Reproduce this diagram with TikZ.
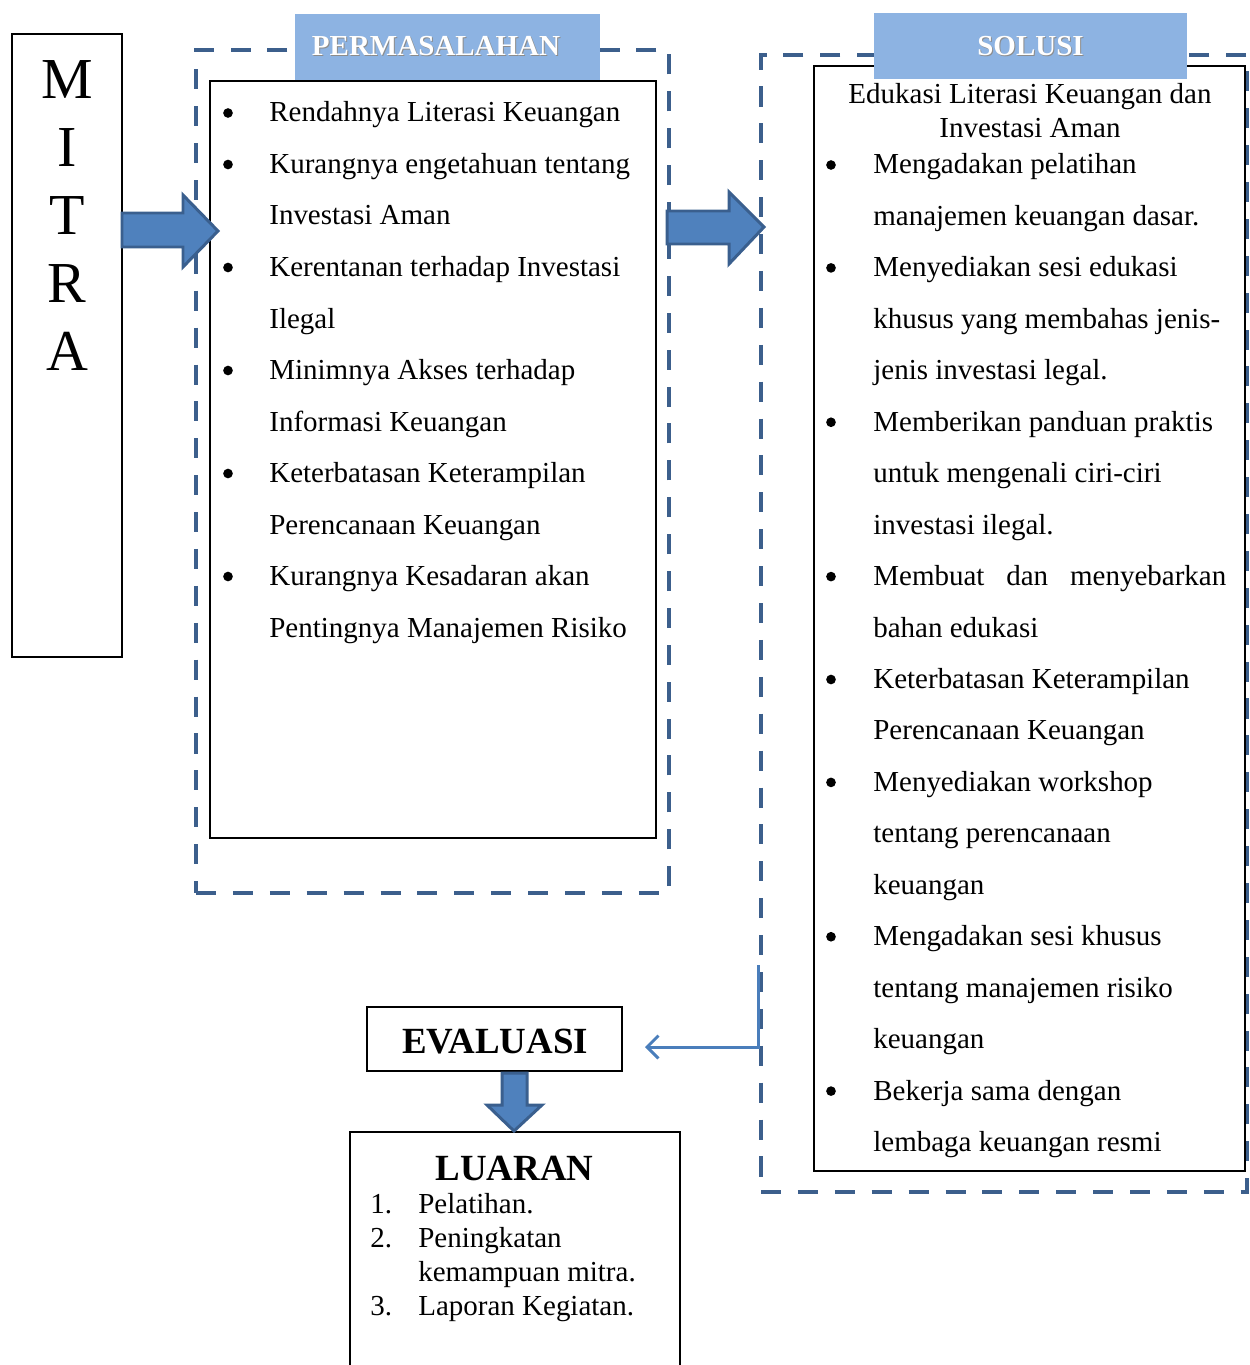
\documentclass[tikz,border=0pt]{standalone}
\usepackage{fontspec}
\setmainfont{Liberation Serif}
\usetikzlibrary{positioning,arrows.meta}

\definecolor{dashblue}{HTML}{3C5F8C}
\definecolor{headblue}{HTML}{8DB3E2}
\definecolor{arrowfill}{HTML}{4F81BD}
\definecolor{arrowedge}{HTML}{3A5F8E}
\definecolor{linkblue}{HTML}{4A7EBB}

\tikzset{
  body/.style={inner sep=0pt, anchor=base west, font=\fontsize{16.5}{20}\selectfont},
  dot/.style={circle, fill=black, inner sep=0pt, minimum size=5.5pt},
  frame/.style={draw=dashblue, line width=2.3pt, dash pattern=on 11.4pt off 9.6pt, inner sep=0pt},
  listbox/.style={draw=black, line width=1.1pt, inner sep=0pt},
  header/.style={fill=headblue, inner sep=0pt},
  headtext/.style={inner sep=0pt, anchor=base, font=\fontsize{16.5}{20}\selectfont\bfseries},
  bigtitle/.style={inner sep=0pt, anchor=base, font=\fontsize{21}{24}\selectfont\bfseries},
  blockarrow/.style={fill=arrowfill, draw=arrowedge, line width=1.7pt, line join=miter},
  link/.style={draw=linkblue, line width=1.7pt, -{Straight Barb[length=6.5pt,width=13pt]}},
}

\begin{document}
\begin{tikzpicture}[x=0.02cm, y=-0.02cm]
  \useasboundingbox (0,0) rectangle (1249,1365);

  % mitra
  \node[listbox, minimum width=2.2cm, minimum height=12.46cm] (mitra) at (67,345.5) {};
  \foreach \i/\l in {0/M,1/I,2/T,3/R,4/A}
    \node[inner sep=0pt, anchor=base, font=\fontsize{33}{36}\selectfont] (mitra\l) at (67,99+\i*67.8) {\l};

  % permasalahan
  \node[frame, minimum width=9.46cm, minimum height=16.86cm] (permframe) at (432.5,471.5) {};
  \node[listbox, minimum width=8.92cm, minimum height=15.14cm] (permbox) at (433,459.5) {};
  \node[header, minimum width=6.1cm, minimum height=1.32cm] (permhead) at (447.5,47) {};
  \node[headtext, text=black!45] (permshade) at (437,57) {PERMASALAHAN};
  \node[headtext, text=white] (permtitle) at (436,56) {PERMASALAHAN};

  \foreach \i in {0,1,3,5,7,9}
    \node[dot] (permdot\i) at (228,113+\i*51.5) {};
  \foreach \i/\txt in {0/Rendahnya Literasi Keuangan, 1/Kurangnya engetahuan tentang,
      2/Investasi Aman, 3/Kerentanan terhadap Investasi, 4/Ilegal,
      5/Minimnya Akses terhadap, 6/Informasi Keuangan,
      7/Keterbatasan Keterampilan, 8/Perencanaan Keuangan,
      9/Kurangnya Kesadaran akan, 10/Pentingnya Manajemen Risiko}
    \node[body] (perm\i) at (269,122+\i*51.5) {\txt};

  % solusi
  \node[frame, minimum width=9.72cm, minimum height=22.74cm] (solframe) at (1004,623.5) {};
  \node[listbox, minimum width=8.62cm, minimum height=22.1cm] (solbox) at (1029.5,618.5) {};
  \node[header, minimum width=6.26cm, minimum height=1.32cm] (solhead) at (1030.5,46) {};
  \node[headtext, text=black!45] (solshade) at (1031.5,57) {SOLUSI};
  \node[headtext, text=white] (soltitle) at (1030.5,56) {SOLUSI};

  \node[body, anchor=base] (solintro1) at (1030,104) {Edukasi Literasi Keuangan dan};
  \node[body, anchor=base] (solintro2) at (1030,138) {Investasi Aman};

  \foreach \i in {0,2,5,8,10,12,15,18}
    \node[dot] (soldot\i) at (831,165+\i*51.45) {};
  \foreach \i/\txt in {0/Mengadakan pelatihan, 1/manajemen keuangan dasar.,
      2/Menyediakan sesi edukasi, 3/khusus yang membahas jenis-,
      4/jenis investasi legal., 5/Memberikan panduan praktis,
      6/untuk mengenali ciri-ciri, 7/investasi ilegal.,
      8/{\makebox[7.06cm][s]{Membuat dan menyebarkan}}, 9/bahan edukasi,
      10/Keterbatasan Keterampilan, 11/Perencanaan Keuangan,
      12/Menyediakan workshop, 13/tentang perencanaan, 14/keuangan,
      15/Mengadakan sesi khusus, 16/tentang manajemen risiko, 17/keuangan,
      18/Bekerja sama dengan, 19/lembaga keuangan resmi}
    \node[body] (sol\i) at (873,174+\i*51.45) {\txt};

  % block arrows
  \draw[blockarrow] (122,213) -- (183,213) -- (183,195) -- (218,231)
    -- (183,267) -- (183,247) -- (122,247) -- cycle;
  \draw[blockarrow] (667,211) -- (729,211) -- (729,192) -- (764,227)
    -- (729,264) -- (729,244) -- (667,244) -- cycle;

  % evaluasi and luaran
  \node[listbox, minimum width=5.1cm, minimum height=1.28cm] (evaluasi) at (494.5,1039) {};
  \node[bigtitle] (evaltitle) at (495,1053) {EVALUASI};

  \coordinate (linkstart) at (758,965);
  \coordinate (linkend) at (645,1047);
  \draw[link] (linkstart) |- (linkend);

  \node[minimum width=6.6cm, minimum height=4.7cm, inner sep=0pt] (luaran) at (515,1250) {};
  \draw[listbox] (luaran.south west) -- (luaran.north west) -- (luaran.north east) -- (luaran.south east);
  \draw[blockarrow] (502,1073) -- (527,1073) -- (527,1105) -- (542,1105) -- (514,1131)
    -- (487,1105) -- (502,1105) -- cycle;

  \node[bigtitle] (luartitle) at (514.5,1180) {LUARAN};
  \foreach \i/\n/\txt in {0/1./Pelatihan., 1/2./Peningkatan, 3/3./Laporan Kegiatan.} {
    \node[body] (luarnum\i) at (370,1213+\i*34) {\n};
    \node[body] (luar\i) at (418,1213+\i*34) {\txt};
  }
  \node[body] (luar2) at (418,1281) {kemampuan mitra.};
\end{tikzpicture}
\end{document}
